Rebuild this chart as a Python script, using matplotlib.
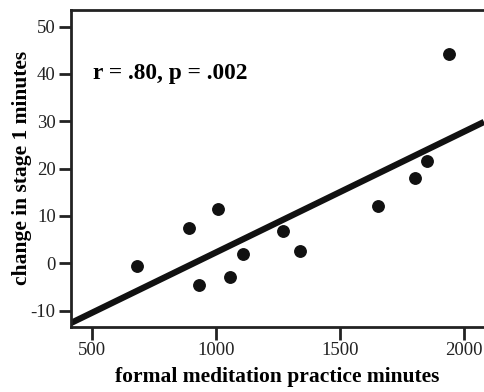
import numpy as np
import matplotlib
matplotlib.use('Agg')
import matplotlib.pyplot as plt

# practice minutes vs change in stage 1 minutes
practice = [681, 892, 1010, 933, 1057, 1110, 1269, 1339, 1654, 1802, 1851, 1937]
stage1_change = [-0.6, 7.4, 11.4, -4.6, -3.0, 2.0, 6.9, 2.5, 12.0, 18.0, 21.5, 44.2]
xticks = [500, 1000, 1500, 2000]
yticks = [-10, 0, 10, 20, 30, 40, 50]

plt.rcParams['font.family'] = ['Liberation Serif', 'DejaVu Serif']
plt.rcParams['axes.unicode_minus'] = False

fig = plt.figure(figsize=(4.84, 3.92), dpi=100)
ax = fig.add_axes([0.1467, 0.1666, 0.8533, 0.8079])

ax.scatter(practice, stage1_change, s=68, color='#111111', zorder=3)

slope, intercept = np.polyfit(practice, stage1_change, 1)
xs = np.array([417, 2079])
ax.plot(xs, slope * xs + intercept, color='#111111', lw=4.5, solid_capstyle='butt')

ax.set_xlim(417, 2079)
ax.set_ylim(-13.4, 53.5)
ax.set_xticks(xticks)
ax.set_yticks(yticks)
ax.tick_params(direction='out', length=9, width=2, labelsize=13.5, colors='#222222', pad=2)
for side in ['left', 'bottom', 'top']:
    ax.spines[side].set_linewidth(2)
    ax.spines[side].set_color('#222222')
ax.spines['right'].set_visible(False)

ax.set_xlabel('formal meditation practice minutes', fontsize=15.5, fontweight='bold', labelpad=6)
ax.set_ylabel('change in stage 1 minutes', fontsize=15.5, fontweight='bold', labelpad=-1)

ax.text(0.053, 0.80, 'r = .80, p = .002', transform=ax.transAxes,
        fontsize=16.8, fontweight='bold', ha='left', va='center')

fig.savefig('out.png', dpi=100)
